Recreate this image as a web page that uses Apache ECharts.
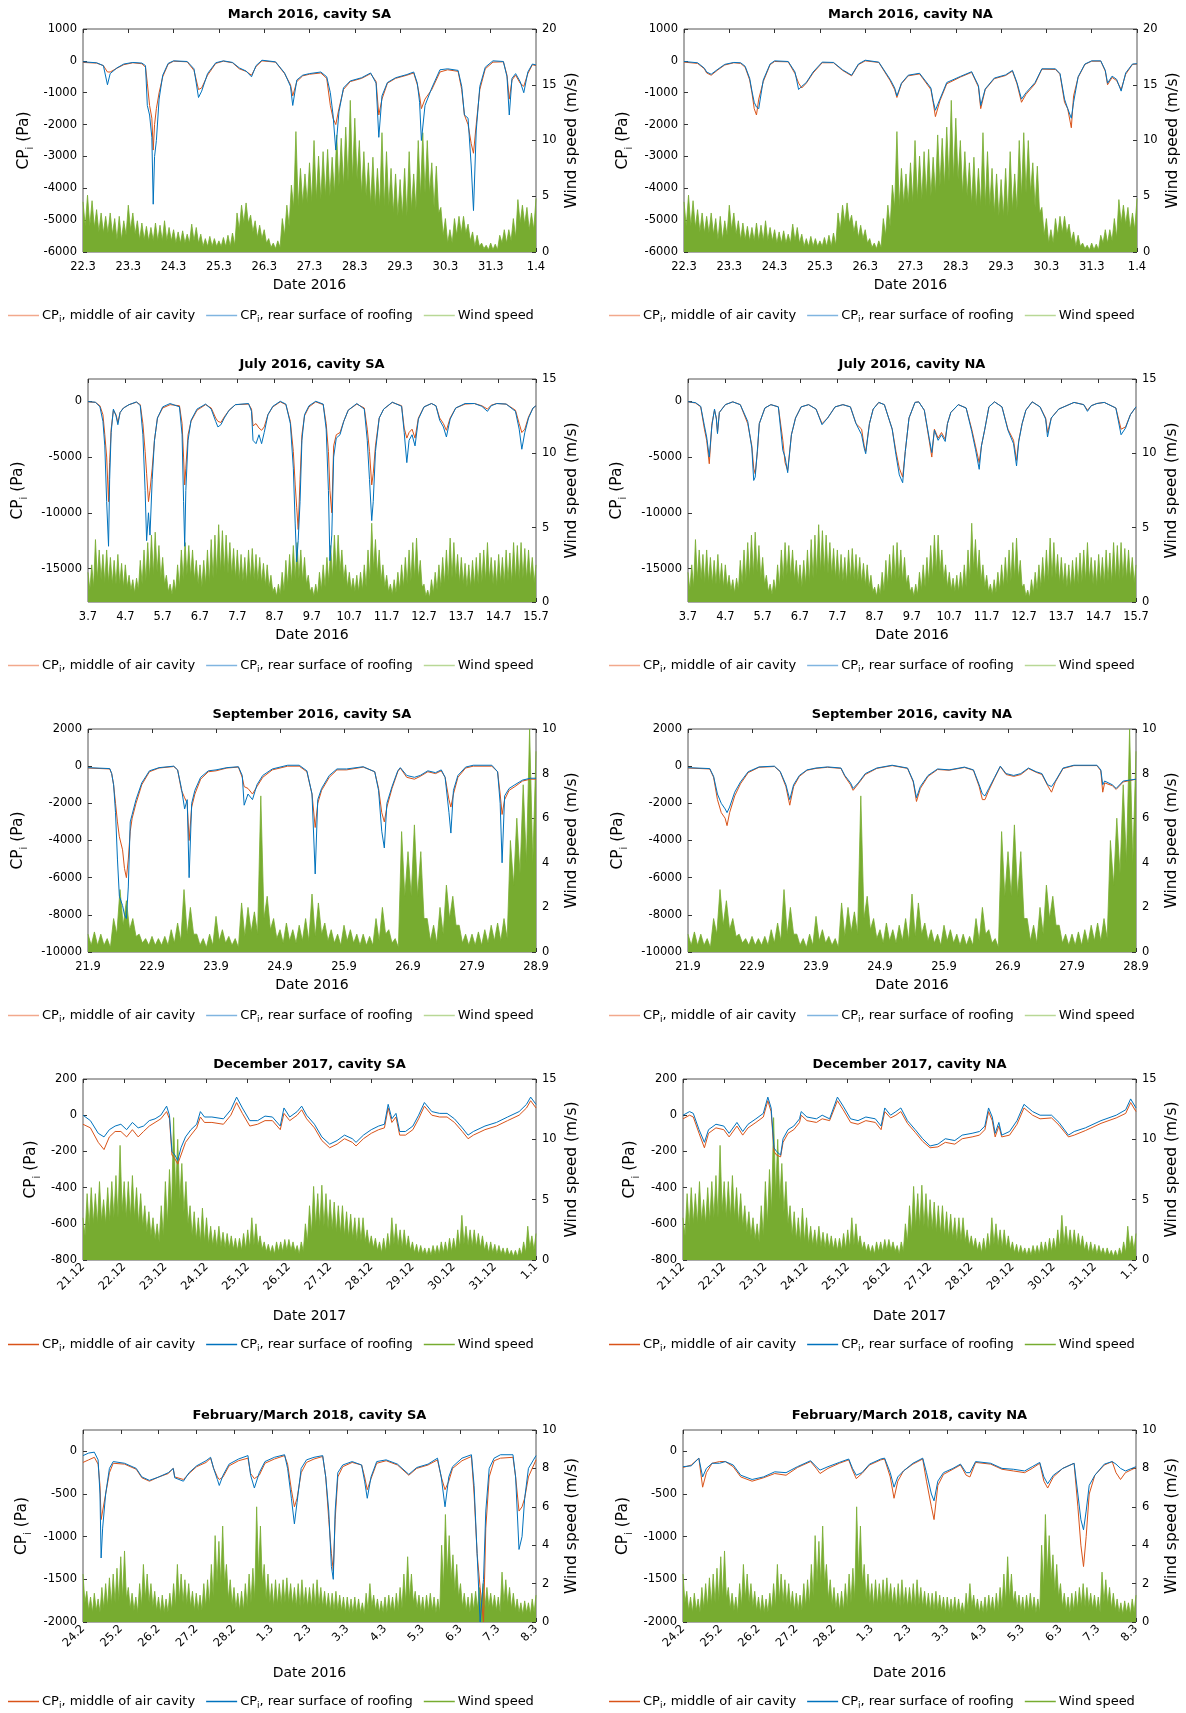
<!DOCTYPE html>
<html><head><meta charset="utf-8">
<script src="https://cdn.jsdelivr.net/npm/echarts@6/dist/echarts.min.js"></script>
<style>html,body{margin:0;padding:0;background:#fff}#c{width:1186px;height:1713px}</style>
</head><body><div id="c"></div>
<script>
// ---------- tick labels ----------
const xMar = ['22.3','23.3','24.3','25.3','26.3','27.3','28.3','29.3','30.3','31.3','1.4'];
const xJul = ['3.7','4.7','5.7','6.7','7.7','8.7','9.7','10.7','11.7','12.7','13.7','14.7','15.7'];
const xSep = ['21.9','22.9','23.9','24.9','25.9','26.9','27.9','28.9'];
const xDec = ['21.12','22.12','23.12','24.12','25.12','26.12','27.12','28.12','29.12','30.12','31.12','1.1'];
const xFeb = ['24.2','25.2','26.2','27.2','28.2','1.3','2.3','3.3','4.3','5.3','6.3','7.3','8.3'];

// ---------- March 2016 ----------
const tMarSA = [0,0.3,0.45,0.54,0.6,0.75,0.9,1.1,1.3,1.38,1.42,1.47,1.52,1.55,1.58,1.62,1.68,1.76,1.88,2.0,2.3,2.45,2.55,2.62,2.75,2.93,3.1,3.3,3.45,3.6,3.72,3.82,3.95,4.25,4.45,4.58,4.63,4.72,4.85,5.0,5.25,5.38,5.46,5.52,5.58,5.65,5.75,5.9,6.15,6.35,6.47,6.53,6.6,6.72,6.9,7.15,7.3,7.38,7.43,7.47,7.55,7.7,7.88,8.05,8.28,8.36,8.42,8.5,8.57,8.62,8.68,8.76,8.88,9.05,9.28,9.36,9.41,9.47,9.55,9.65,9.73,9.82,9.92,10];
const pMarSA_mid = [-50,-70,-150,-350,-350,-230,-120,-60,-90,-200,-700,-1400,-1800,-2800,-2000,-1500,-1000,-500,-100,-10,-30,-300,-900,-850,-450,-80,-10,-60,-250,-330,-450,-180,0,-40,-400,-750,-1100,-650,-470,-420,-380,-550,-1400,-1800,-2000,-1500,-900,-650,-550,-400,-650,-1700,-1200,-700,-550,-450,-380,-750,-1100,-1500,-1200,-900,-350,-280,-330,-900,-1700,-2000,-2600,-2900,-2000,-900,-250,-40,-30,-450,-1200,-600,-450,-700,-800,-400,-120,-150];
const pMarSA_rear = [-30,-60,-150,-750,-400,-220,-100,-50,-70,-150,-1400,-1700,-2400,-4500,-3000,-2500,-1200,-450,-80,0,-20,-250,-1150,-950,-400,-60,0,-50,-220,-320,-500,-150,20,-30,-380,-800,-1400,-600,-450,-400,-350,-500,-1000,-1700,-2800,-1600,-850,-630,-530,-380,-700,-2400,-1100,-680,-530,-430,-350,-700,-1300,-2500,-1400,-850,-280,-250,-300,-800,-1700,-1800,-3300,-4700,-2200,-800,-200,0,-20,-500,-1700,-550,-400,-650,-1000,-350,-100,-130];
const tMarNA = [0,0.3,0.45,0.5,0.6,0.75,0.9,1.1,1.25,1.35,1.45,1.5,1.55,1.6,1.65,1.75,1.9,2.0,2.3,2.45,2.53,2.6,2.7,2.85,3.05,3.3,3.5,3.7,3.85,4.0,4.3,4.55,4.65,4.7,4.8,4.95,5.2,5.45,5.5,5.55,5.65,5.8,6.1,6.35,6.5,6.55,6.65,6.85,7.1,7.25,7.35,7.45,7.55,7.75,7.9,8.2,8.3,8.4,8.47,8.55,8.6,8.7,8.85,9.0,9.2,9.3,9.35,9.45,9.55,9.65,9.75,9.9,10];
const pMarNA_mid = [-40,-80,-250,-380,-450,-280,-130,-60,-80,-200,-600,-1000,-1500,-1700,-1200,-650,-120,-20,-30,-400,-700,-850,-700,-380,-60,-60,-300,-470,-120,0,-50,-620,-900,-1150,-720,-470,-410,-900,-1300,-1750,-1250,-720,-510,-360,-820,-1500,-900,-560,-460,-320,-720,-1300,-1050,-720,-260,-270,-420,-1300,-1500,-2100,-1100,-520,-110,-10,-10,-320,-750,-520,-620,-900,-420,-110,-100];
const pMarNA_rear = [-20,-60,-230,-350,-420,-260,-110,-50,-60,-170,-550,-950,-1300,-1450,-1500,-600,-100,0,-20,-350,-900,-800,-680,-350,-40,-50,-280,-450,-100,20,-40,-580,-850,-1100,-700,-450,-390,-850,-1250,-1550,-1200,-680,-490,-340,-780,-1400,-880,-540,-440,-300,-680,-1200,-1000,-680,-250,-250,-400,-1200,-1500,-1800,-1300,-500,-100,0,0,-300,-700,-480,-580,-950,-380,-100,-90];
const wMarPeak = [4.5,5.1,4.6,3.8,3.5,3.2,3.5,3.0,3.2,2.8,4.2,3.5,2.8,2.6,2.3,2.2,2.6,2.4,2.8,2.2,2.0,1.8,1.9,1.6,2.5,2.2,1.6,1.2,1.4,1.2,1.0,1.3,1.5,1.7,3.5,4.2,4.4,3.3,2.8,2.4,2.0,1.2,0.8,1.0,3.0,4.2,6.0,10.8,7.5,7.0,8.0,10.0,8.6,9.0,9.2,8.5,10.5,10.2,11.2,13.6,12.0,10.0,9.0,8.0,8.5,7.5,10.7,9.0,7.5,7.0,6.5,7.5,9.0,7.0,10.0,10.7,10.0,8.0,7.7,4.0,3.0,2.0,3.0,3.2,3.2,2.5,1.8,1.5,0.8,0.6,0.8,0.7,1.5,2.0,2.0,3.0,4.7,4.2,4.0,3.5,4.8];
const wMarCore = [2.3,2.3,2.2,1.8,1.7,1.7,1.6,1.1,1.1,1.5,2.0,1.6,1.1,1.1,1.0,1.0,1.0,1.0,1.0,1.0,0.8,0.8,0.8,0.8,1.0,0.8,0.5,0.5,0.5,0.5,0.5,0.5,0.5,0.6,2.0,2.6,2.6,1.8,1.3,1.2,0.8,0.4,0.3,0.4,1.5,2.3,4.0,4.1,4.3,4.4,4.5,4.7,4.7,5.0,5.0,5.2,5.9,5.9,6.3,6.5,6.5,5.2,5.0,4.3,4.1,4.1,4.1,4.1,3.5,3.2,3.2,3.2,3.8,3.8,5.0,5.3,5.3,4.0,3.5,1.5,0.8,0.8,1.5,1.7,1.7,1.0,0.5,0.5,0.3,0.2,0.2,0.2,0.8,0.8,1.0,1.3,2.6,2.5,2.0,2.0,2.0];

// ---------- July 2016 ----------
const tJulSA = [0,0.2,0.32,0.4,0.45,0.5,0.55,0.58,0.62,0.68,0.75,0.8,0.86,0.95,1.1,1.3,1.4,1.47,1.53,1.57,1.62,1.66,1.72,1.78,1.86,2.0,2.2,2.45,2.52,2.56,2.59,2.62,2.68,2.76,2.92,3.15,3.3,3.42,3.48,3.56,3.65,3.78,3.95,4.3,4.38,4.42,4.5,4.58,4.65,4.72,4.82,4.95,5.15,5.3,5.42,5.5,5.55,5.59,5.63,5.68,5.73,5.8,5.92,6.1,6.3,6.38,6.44,6.48,6.53,6.58,6.65,6.75,6.85,6.97,7.2,7.4,7.48,7.54,7.6,7.64,7.7,7.8,7.92,8.15,8.4,8.47,8.54,8.6,8.68,8.76,8.85,9.0,9.2,9.32,9.42,9.52,9.6,9.7,9.85,10.1,10.35,10.55,10.7,10.8,10.95,11.2,11.45,11.55,11.62,11.7,11.8,11.92,12];
const pJulSA_mid = [-50,-100,-400,-1200,-3000,-5000,-9000,-5500,-2500,-800,-1200,-1900,-1000,-600,-300,-80,-300,-2000,-4500,-6500,-9000,-8000,-6000,-3500,-1500,-600,-300,-400,-2000,-5000,-7500,-6000,-3000,-1800,-800,-300,-600,-1500,-1800,-1900,-1400,-800,-300,-250,-700,-2200,-2000,-2400,-2600,-2300,-1200,-500,-50,-300,-1800,-4500,-7500,-9500,-11500,-7000,-3000,-1300,-500,-50,-300,-2000,-4500,-8000,-10000,-4000,-3000,-2800,-1800,-800,-250,-600,-2500,-4500,-7500,-6500,-4000,-1500,-700,-100,-400,-2400,-3300,-2800,-2500,-3300,-1500,-500,-200,-400,-1500,-2000,-2600,-1500,-600,-250,-200,-400,-700,-350,-200,-250,-800,-2000,-2800,-2500,-1400,-600,-400];
const pJulSA_rear = [-30,-80,-500,-1800,-4000,-9000,-13000,-7000,-2800,-700,-1300,-2100,-1000,-600,-300,-50,-400,-3000,-8000,-12500,-10000,-12000,-7000,-3500,-1500,-500,-200,-500,-3000,-9000,-13000,-8000,-3500,-1700,-700,-250,-700,-1800,-2300,-2100,-1500,-800,-300,-200,-900,-3500,-3800,-3000,-3800,-2800,-1200,-450,0,-250,-2000,-6000,-11000,-14400,-12500,-9000,-3500,-1200,-400,0,-250,-2500,-8000,-14300,-12000,-5000,-3300,-3000,-1800,-800,-200,-700,-3500,-7000,-10700,-9000,-4500,-1500,-700,-80,-450,-2800,-5500,-3500,-3000,-4000,-1600,-500,-200,-400,-1700,-2300,-3200,-1600,-600,-200,-200,-450,-900,-400,-200,-250,-900,-2500,-4300,-2800,-1500,-600,-400];
const tJulNA = [0,0.2,0.34,0.44,0.5,0.57,0.64,0.71,0.76,0.79,0.84,1.0,1.2,1.4,1.6,1.71,1.76,1.8,1.86,1.91,2.06,2.22,2.42,2.54,2.6,2.67,2.77,2.88,3.03,3.23,3.43,3.59,3.74,3.94,4.15,4.35,4.5,4.65,4.72,4.76,4.86,4.96,5.11,5.26,5.47,5.57,5.66,5.75,5.82,5.92,6.08,6.18,6.33,6.46,6.53,6.6,6.7,6.79,6.89,6.95,7.04,7.24,7.45,7.6,7.7,7.8,7.86,7.95,8.06,8.21,8.41,8.57,8.72,8.8,8.86,8.95,9.05,9.22,9.43,9.58,9.63,9.73,9.93,10.34,10.6,10.7,10.8,10.95,11.15,11.46,11.6,11.65,11.72,11.85,12];
const pJulNA_mid = [-50,-150,-500,-2500,-3500,-5600,-2000,-800,-1500,-2800,-1000,-300,-50,-300,-2000,-4000,-6000,-6500,-4500,-2000,-600,-300,-500,-3500,-5500,-6200,-3000,-1500,-500,-300,-700,-2000,-1500,-500,-300,-500,-2000,-2500,-4000,-4500,-2000,-700,-100,-300,-2500,-4500,-6000,-6800,-4500,-1500,-100,-50,-800,-3500,-5000,-2500,-3300,-2800,-3400,-2000,-1000,-300,-600,-2500,-4000,-5500,-4000,-2500,-500,-50,-500,-2500,-3500,-5300,-3500,-2000,-800,-50,-500,-1500,-2800,-1500,-700,-100,-300,-800,-400,-200,-100,-600,-2500,-2600,-2300,-1200,-500];
const pJulNA_rear = [-40,-120,-450,-2200,-3200,-5000,-2200,-700,-1600,-2900,-1000,-300,-50,-300,-1800,-4200,-7100,-6800,-4300,-2000,-600,-300,-500,-4400,-5000,-6400,-3000,-1500,-500,-300,-700,-2100,-1500,-500,-300,-500,-2000,-3000,-4200,-4700,-2000,-700,-100,-300,-2500,-4800,-6600,-7300,-4500,-1500,-100,-50,-800,-3300,-4600,-2600,-3500,-3000,-3600,-2000,-1000,-300,-600,-2700,-4300,-6100,-4000,-2500,-500,-50,-500,-2600,-3800,-5800,-3600,-2000,-800,-50,-500,-1600,-3200,-1500,-700,-100,-300,-900,-400,-200,-100,-600,-3000,-3100,-2400,-1200,-500];
const wJulPeak = [2.0,2.5,4.2,3.5,3.2,3.5,3.0,2.8,3.2,2.6,2.5,1.8,1.5,1.6,2.8,3.5,4.0,4.5,4.7,3.8,3.0,1.8,1.2,1.5,2.5,3.5,4.0,3.8,3.5,2.8,2.5,2.8,3.5,4.2,4.5,5.2,4.8,4.5,4.0,3.6,3.5,3.2,3.0,3.5,3.6,3.2,3.0,2.6,2.5,1.8,1.0,1.2,2.0,2.8,3.2,3.8,4.0,3.5,3.0,1.8,1.0,1.2,2.0,2.5,3.0,3.8,4.5,4.5,3.5,2.5,2.0,1.6,1.8,2.0,2.5,3.5,5.3,4.2,3.5,2.5,1.8,1.2,1.5,2.0,2.5,3.0,3.5,4.0,4.3,2.8,1.2,0.8,1.5,2.0,2.5,3.0,3.5,4.3,4.0,3.2,3.0,2.6,2.5,2.8,3.0,3.3,3.5,4.0,3.0,2.8,3.2,3.0,3.5,3.3,4.0,3.8,4.0,3.6,3.5,3.0,2.5];
const wJulCore = [0.8,1.0,1.5,1.5,1.3,1.3,1.2,1.2,1.2,1.0,1.0,0.8,0.6,0.8,1.2,1.4,1.6,1.8,2.0,1.6,1.2,0.7,0.5,0.7,1.0,1.5,1.8,1.7,1.5,1.2,1.0,1.2,1.3,1.6,1.8,2.0,2.0,1.9,1.8,1.6,1.5,1.4,1.3,1.5,1.5,1.4,1.3,1.1,1.0,0.7,0.4,0.5,0.7,1.1,1.3,1.5,1.6,1.4,1.2,0.7,0.4,0.5,0.8,1.0,1.3,1.6,2.0,2.0,1.5,1.0,0.8,0.7,0.7,0.8,1.0,1.5,2.2,1.8,1.4,1.0,0.7,0.5,0.6,0.8,1.0,1.2,1.4,1.6,1.6,1.0,0.4,0.3,0.6,0.8,1.0,1.2,1.4,1.6,1.6,1.3,1.2,1.0,1.0,1.1,1.2,1.3,1.4,1.5,1.2,1.1,1.3,1.2,1.4,1.3,1.5,1.5,1.6,1.5,1.5,1.3,1.2];

// ---------- September 2016 ----------
const tSepSA = [0,0.34,0.37,0.4,0.43,0.46,0.49,0.54,0.57,0.6,0.63,0.66,0.69,0.75,0.84,0.96,1.11,1.34,1.4,1.46,1.51,1.55,1.58,1.62,1.67,1.76,1.88,2.0,2.17,2.35,2.41,2.44,2.5,2.57,2.64,2.73,2.88,3.12,3.3,3.42,3.5,3.55,3.59,3.65,3.77,3.89,4.04,4.3,4.48,4.54,4.59,4.63,4.67,4.75,4.84,4.88,4.98,5.1,5.19,5.31,5.43,5.52,5.58,5.64,5.67,5.71,5.78,5.9,6.02,6.31,6.4,6.44,6.47,6.51,6.58,6.67,6.79,6.91,7];
const pSepSA_mid = [-100,-150,-400,-1000,-2000,-3000,-3800,-4500,-5500,-6000,-5000,-3500,-2800,-2000,-1000,-300,-100,-20,-200,-1300,-1700,-2000,-4000,-2200,-1500,-700,-300,-250,-100,-50,-600,-1100,-1200,-1500,-1100,-600,-200,0,0,-300,-1500,-3300,-2000,-1300,-600,-200,-200,-50,-300,-1200,-2500,-3000,-2200,-1200,-300,-100,-600,-700,-550,-300,-400,-250,-600,-1800,-2200,-1500,-600,-100,0,0,-300,-1500,-2600,-1800,-1300,-1100,-800,-700,-700];
const pSepSA_rear = [-80,-130,-400,-1000,-2500,-5000,-7000,-7500,-8000,-8200,-6500,-3000,-2600,-1800,-900,-250,-80,0,-200,-1200,-2300,-1800,-6000,-2000,-1300,-600,-250,-200,-80,-30,-500,-2100,-1500,-1800,-1000,-500,-150,50,50,-250,-1500,-5800,-1800,-1200,-500,-150,-150,-30,-300,-1300,-3500,-4400,-2000,-1100,-250,-80,-500,-600,-500,-250,-350,-200,-600,-2500,-3600,-1300,-500,-50,50,50,-300,-2000,-5200,-1600,-1200,-1000,-750,-650,-650];
const tSepNA = [0,0.34,0.4,0.46,0.52,0.58,0.61,0.65,0.73,0.82,0.94,1.11,1.35,1.44,1.53,1.59,1.65,1.74,1.86,2.0,2.18,2.39,2.45,2.54,2.58,2.66,2.77,2.95,3.19,3.43,3.52,3.57,3.63,3.75,3.9,4.08,4.32,4.46,4.55,4.6,4.64,4.7,4.79,4.88,4.97,5.09,5.2,5.32,5.44,5.53,5.62,5.68,5.74,5.86,6.03,6.39,6.45,6.48,6.51,6.63,6.69,6.8,7];
const pSepNA_mid = [-100,-150,-600,-1800,-2500,-2800,-3200,-2500,-1600,-950,-350,-60,-20,-300,-1100,-2100,-1100,-550,-220,-120,-60,-120,-550,-1000,-1300,-950,-450,-120,30,-120,-850,-1900,-1200,-550,-180,-220,-70,-220,-1100,-1800,-1800,-1300,-650,-20,-450,-550,-450,-130,-330,-450,-1050,-1400,-850,-130,30,30,-250,-1400,-900,-1050,-1250,-850,-700];
const pSepNA_rear = [-80,-130,-550,-1500,-2000,-2300,-2500,-2200,-1400,-850,-300,-40,0,-280,-1000,-1800,-1000,-500,-200,-100,-40,-100,-500,-900,-1200,-900,-400,-100,50,-100,-800,-1700,-1100,-500,-150,-200,-50,-200,-1000,-1500,-1600,-1200,-600,0,-400,-500,-400,-100,-300,-400,-1000,-1100,-800,-100,50,50,-200,-1000,-800,-1000,-1200,-800,-700];
const wSepPeak = [0.8,0.9,0.8,0.6,1.5,2.8,2.3,1.5,0.8,0.6,0.7,0.6,0.7,1,1.3,2.8,2,0.8,0.6,0.8,1.6,1,0.7,0.6,2.2,2,1.8,7,2.5,1.5,1,1.3,1,1.2,1.5,2.6,2.2,1.3,1,0.8,1.2,1,0.8,0.8,0.7,1.5,2,1,0.6,5.4,4.5,5.7,4.5,1.5,1.2,2,3,2.5,1.2,0.8,0.8,0.9,1,1.2,1.3,1.5,5,6,7.5,10,9];
const wSepCore = [0.3,0.3,0.3,0.2,0.8,1.2,1,0.7,0.4,0.3,0.3,0.3,0.3,0.4,0.5,0.8,0.8,0.3,0.2,0.3,0.5,0.4,0.3,0.2,0.7,0.9,0.8,1.5,1,0.6,0.4,0.5,0.4,0.5,0.5,0.7,0.8,0.5,0.4,0.3,0.5,0.4,0.3,0.3,0.3,0.5,0.8,0.4,0.2,2.5,2.5,2.5,1.5,0.5,0.4,0.8,1.5,1.2,0.4,0.3,0.3,0.3,0.4,0.5,0.5,0.6,3,3.5,4,4,3];

// ---------- December 2017 ----------
const tDecSA = [0,0.18,0.37,0.51,0.64,0.78,0.92,1.06,1.2,1.34,1.47,1.61,1.75,1.89,2.03,2.1,2.16,2.23,2.3,2.38,2.49,2.62,2.76,2.85,2.95,3.13,3.41,3.59,3.73,3.87,4.05,4.24,4.42,4.6,4.79,4.88,5.02,5.2,5.31,5.43,5.62,5.8,5.99,6.17,6.35,6.54,6.63,6.81,7.0,7.18,7.32,7.41,7.5,7.6,7.69,7.83,8.01,8.15,8.29,8.47,8.66,8.84,9.02,9.21,9.35,9.48,9.76,10.04,10.31,10.59,10.77,10.87,11];
const pDecSA_mid = [-50,-70,-150,-190,-120,-90,-90,-120,-80,-120,-90,-60,-40,-20,20,-20,-220,-240,-270,-220,-150,-110,-70,-10,-40,-40,-50,0,70,10,-60,-50,-30,-30,-80,10,-30,0,30,-20,-70,-140,-180,-160,-130,-150,-170,-130,-100,-80,-70,40,-40,-10,-110,-110,-80,-20,50,0,-10,-10,-40,-90,-130,-110,-80,-60,-30,0,40,80,40];
const pDecSA_rear = [0,-30,-100,-120,-80,-60,-50,-80,-40,-70,-60,-30,-20,0,50,0,-200,-220,-250,-180,-120,-80,-50,20,-10,-10,-20,30,100,40,-30,-30,-5,-10,-60,40,-10,20,50,0,-50,-120,-160,-140,-110,-130,-150,-110,-80,-60,-50,60,-20,10,-90,-90,-60,0,70,20,10,10,-20,-70,-110,-90,-60,-40,-10,20,60,100,60];
const tDecNA = [0,0.16,0.25,0.39,0.52,0.62,0.8,0.99,1.12,1.31,1.45,1.58,1.77,1.95,2.06,2.14,2.21,2.27,2.37,2.43,2.55,2.69,2.83,2.87,3.01,3.24,3.38,3.56,3.75,3.89,4.07,4.25,4.44,4.67,4.81,4.9,5.04,5.17,5.29,5.45,5.64,5.82,6.0,6.19,6.37,6.6,6.78,7.02,7.2,7.33,7.42,7.51,7.58,7.67,7.74,7.93,8.11,8.28,8.49,8.67,8.95,9.13,9.36,9.5,9.77,10.15,10.52,10.75,10.87,11];
const pDecNA_mid = [-20,0,-10,-100,-180,-100,-70,-80,-120,-60,-110,-70,-40,-10,80,20,-200,-220,-230,-150,-100,-80,-40,0,-30,-40,-20,-30,80,30,-40,-50,-30,-40,-80,20,-15,0,20,-45,-95,-145,-180,-175,-150,-160,-130,-120,-110,-80,20,-30,-120,-60,-120,-110,-50,40,0,-20,-15,-55,-120,-110,-85,-45,-15,10,70,20];
const pDecNA_rear = [0,20,10,-80,-150,-80,-50,-60,-100,-40,-90,-50,-20,10,100,40,-180,-200,-220,-130,-80,-60,-20,20,-10,-20,0,-20,100,50,-20,-30,-10,-20,-60,40,0,20,40,-30,-80,-130,-170,-160,-130,-140,-110,-100,-90,-60,40,-10,-100,-40,-110,-90,-30,60,20,0,0,-40,-110,-90,-70,-30,0,30,90,40];
const wDecPeak = [3.5,5.5,6.0,5.5,6.5,5.0,6.0,6.5,7.0,9.5,6.5,6.5,7.0,6.0,5.5,4.5,4.0,3.5,3.0,4.5,6.5,7.5,11.8,10.0,8.0,6.5,4.5,4.0,3.5,4.3,3.5,2.8,2.5,2.8,2.3,2.2,2.0,1.8,1.8,2.2,2.5,3.5,3.0,2.0,1.5,1.3,1.2,1.5,1.5,1.7,1.7,1.5,1.2,1.5,3.0,4.5,6.1,5.5,6.2,5.5,5.0,4.8,4.5,4.5,4.0,3.8,3.5,3.5,3.5,2.5,2.0,1.8,1.5,1.8,2.2,3.5,3.0,2.5,2.5,2.0,1.5,1.3,1.2,1.0,1.0,1.2,1.2,1.5,1.5,1.8,1.8,2.5,3.7,2.8,2.5,2.5,2.2,2.0,1.5,1.5,1.3,1.2,1.0,1.0,0.8,0.8,1.0,1.5,2.8,2.0,2.2];
const wDecCore = [2.0,2.8,3.0,3.0,3.2,3.0,3.2,3.5,3.5,4.0,3.5,3.5,3.5,3.0,2.8,2.3,2.0,1.7,1.5,2.0,3.0,4.0,5.5,5.0,4.0,3.0,2.0,1.7,1.5,1.5,1.3,1.2,1.1,1.1,1.0,1.0,0.9,0.8,0.8,0.9,1.0,1.2,1.2,0.9,0.7,0.6,0.5,0.7,0.7,0.8,0.8,0.7,0.5,0.7,1.5,2.2,2.8,2.8,2.8,2.6,2.5,2.3,2.2,2.0,1.9,1.8,1.6,1.6,1.5,1.2,1.0,0.8,0.6,0.7,0.9,1.3,1.2,1.0,1.0,0.8,0.6,0.5,0.5,0.4,0.4,0.5,0.5,0.6,0.6,0.7,0.8,1.0,1.3,1.2,1.1,1.1,1.0,0.8,0.6,0.6,0.5,0.5,0.4,0.4,0.3,0.3,0.4,0.6,1.0,0.8,0.9];

// ---------- February/March 2018 ----------
const tFebSA = [0,0.15,0.3,0.4,0.45,0.48,0.52,0.6,0.7,0.8,1.1,1.41,1.56,1.76,2.01,2.26,2.39,2.43,2.66,2.81,3.01,3.26,3.38,3.46,3.56,3.61,3.71,3.87,4.12,4.37,4.44,4.54,4.67,4.82,5.07,5.34,5.42,5.52,5.6,5.67,5.78,5.92,6.12,6.35,6.43,6.51,6.58,6.63,6.68,6.75,6.88,7.13,7.38,7.46,7.53,7.63,7.78,8.03,8.33,8.63,8.84,9.14,9.39,9.49,9.59,9.69,9.79,10.04,10.29,10.36,10.44,10.52,10.61,10.67,10.76,10.89,11.06,11.39,11.46,11.55,11.63,11.7,11.8,12];
const pFebSA_mid = [-130,-100,-70,-150,-400,-800,-700,-500,-250,-140,-150,-210,-310,-350,-300,-260,-200,-300,-330,-260,-180,-130,-80,-200,-300,-330,-300,-170,-110,-80,-260,-320,-280,-140,-90,-50,-150,-450,-650,-550,-250,-130,-90,-60,-300,-800,-1200,-1400,-800,-300,-180,-130,-160,-300,-450,-320,-140,-110,-160,-280,-200,-160,-100,-300,-450,-350,-200,-110,-60,-500,-1200,-1600,-2000,-900,-300,-110,-80,-70,-300,-700,-650,-550,-300,-100];
const pFebSA_rear = [-50,-20,-10,-100,-500,-1250,-900,-500,-200,-120,-140,-200,-300,-340,-300,-250,-200,-310,-350,-250,-170,-110,-70,-200,-330,-400,-280,-150,-90,-50,-280,-430,-250,-120,-70,-40,-200,-550,-850,-600,-200,-100,-70,-50,-300,-700,-1350,-1500,-700,-250,-160,-120,-160,-350,-550,-300,-120,-100,-150,-270,-190,-150,-80,-300,-650,-300,-180,-80,-40,-400,-1200,-2000,-1500,-700,-200,-80,-40,-40,-300,-1150,-1000,-550,-200,-50];
const tFebNA = [0,0.22,0.42,0.52,0.62,0.77,0.97,1.12,1.33,1.53,1.83,2.13,2.43,2.73,3.03,3.38,3.53,3.63,3.84,4.14,4.39,4.49,4.59,4.74,4.94,5.24,5.34,5.49,5.59,5.69,5.84,6.09,6.35,6.45,6.58,6.65,6.75,6.9,7.15,7.35,7.5,7.6,7.75,8.15,8.45,8.75,9.05,9.25,9.45,9.56,9.66,9.81,10.06,10.36,10.46,10.54,10.61,10.68,10.76,10.91,11.16,11.37,11.47,11.59,11.72,12];
const pFebNA_mid = [-190,-160,-80,-420,-250,-140,-120,-120,-180,-300,-350,-310,-260,-280,-190,-120,-200,-260,-200,-140,-100,-220,-320,-260,-160,-100,-90,-300,-550,-350,-230,-150,-90,-350,-650,-800,-400,-270,-210,-160,-280,-300,-130,-150,-210,-230,-250,-200,-140,-350,-430,-300,-200,-140,-650,-1100,-1350,-1000,-500,-280,-160,-120,-250,-330,-250,-190];
const pFebNA_rear = [-180,-170,-80,-300,-200,-140,-140,-120,-160,-280,-330,-300,-240,-250,-180,-110,-180,-220,-180,-130,-90,-200,-280,-250,-150,-90,-80,-250,-420,-300,-230,-140,-80,-250,-500,-580,-350,-250,-200,-150,-250,-250,-120,-140,-200,-210,-230,-180,-130,-300,-380,-280,-200,-140,-500,-800,-920,-700,-400,-280,-150,-120,-150,-200,-230,-180];
const wFebPeak = [2.5,1.6,1.3,1.5,1.2,1.8,2.0,2.3,2.5,2.8,3.4,3.7,1.8,1.5,1.3,2.0,3.0,2.5,2.0,1.6,1.3,1.4,1.2,1.5,2.0,3.0,2.5,2.2,2.0,1.6,1.5,1.4,2.0,2.2,3.0,4.5,4.2,5.0,3.0,2.2,1.8,1.5,1.6,2.0,2.5,2.8,6.0,5.0,3.0,2.5,2.0,2.2,2.0,2.2,2.3,2.0,1.8,2.0,2.2,1.8,1.8,2.0,2.2,1.8,1.6,1.5,1.5,1.6,1.4,1.3,1.3,1.2,1.3,1.2,1.0,1.5,2.0,1.4,1.2,1.1,1.3,1.4,1.3,1.5,1.8,2.5,3.4,2.5,1.6,1.4,1.3,1.4,1.5,1.3,1.2,4.0,5.6,4.5,3.5,3.0,2.0,1.5,1.3,1.5,1.6,1.8,2.0,1.8,1.5,1.4,1.3,2.6,2.2,1.8,1.5,1.2,1.0,1.1,1.0,1.2,1.4];
const wFebCore = [1.0,0.6,0.5,0.6,0.5,0.7,0.8,0.9,1.0,1.1,1.2,1.2,0.7,0.6,0.5,0.8,1.2,1.0,0.8,0.6,0.5,0.5,0.5,0.6,0.8,1.1,1.0,0.9,0.8,0.6,0.6,0.6,0.8,0.9,1.3,2.0,2.0,2.0,1.2,0.9,0.7,0.6,0.6,0.8,1.0,1.2,2.5,2.0,1.2,1.0,0.8,0.9,0.9,1.0,1.0,0.9,0.8,0.8,0.9,0.8,0.8,0.8,0.9,0.8,0.7,0.6,0.6,0.6,0.6,0.5,0.5,0.5,0.5,0.5,0.4,0.6,0.8,0.6,0.5,0.5,0.5,0.6,0.5,0.6,0.7,1.0,1.2,1.0,0.7,0.6,0.5,0.6,0.6,0.5,0.5,1.8,2.5,2.2,1.6,1.3,0.8,0.6,0.5,0.6,0.7,0.8,0.8,0.8,0.7,0.6,0.5,1.0,0.9,0.7,0.6,0.5,0.4,0.5,0.4,0.5,0.6];

// ---------- build ----------
const ORANGE = '#D95319', BLUE = '#0072BD', GREEN = '#77AC30';
const PALE = ['#F2A88C', '#80B5E0', '#B8D896'];
const FONT = '"DejaVu Sans", Verdana, sans-serif';
const N_MID = 'CPi, middle of air cavity', N_REAR = 'CPi, rear surface of roofing', N_WIND = 'Wind speed';

function pairs(t, v) { const n = Math.min(t.length, v.length), o = []; for (let i = 0; i < n; i++) o.push([t[i], v[i]]); return o; }
function zigzag(peak, core, step) {
  const o = [];
  for (let i = 0; i < peak.length; i++) {
    o.push([i * step, peak[i]]);
    if (i < peak.length - 1 && i < core.length) o.push([i * step + step / 2, core[i]]);
  }
  return o;
}

const rows = [
  {top: 29,   h: 223, lx: 83, lw: 453, rx: 684, rw: 453, ty: 15,   ly: 315,  xgap: 26, rot: 0,  lg: [48, 50], pale: true},
  {top: 379,  h: 223, lx: 88, lw: 448, rx: 688, rw: 448, ty: 365,  ly: 665,  xgap: 26, rot: 0,  lg: [59, 60], pale: true},
  {top: 729,  h: 223, lx: 88, lw: 448, rx: 688, rw: 448, ty: 715,  ly: 1015, xgap: 26, rot: 0,  lg: [59, 59], pale: true},
  {top: 1079, h: 181, lx: 83, lw: 453, rx: 683, rw: 453, ty: 1065, ly: 1344, xgap: 49, rot: 45, lg: [41, 42], pale: false},
  {top: 1430, h: 192, lx: 83, lw: 453, rx: 683, rw: 453, ty: 1416, ly: 1701, xgap: 44, rot: 45, lg: [50, 49], pale: false}
];

const panels = [
  {r:0,c:0,title:'March 2016, cavity SA',t:tMarSA,mid:pMarSA_mid,rear:pMarSA_rear,wp:wMarPeak,wc:wMarCore,ws:0.1,xl:xMar,yl:[-6000,1000,1000,null],yr:[0,20,5],xn:'Date 2016'},
  {r:0,c:1,title:'March 2016, cavity NA',t:tMarNA,mid:pMarNA_mid,rear:pMarNA_rear,wp:wMarPeak,wc:wMarCore,ws:0.1,xl:xMar,yl:[-6000,1000,1000,null],yr:[0,20,5],xn:'Date 2016'},
  {r:1,c:0,title:'July 2016, cavity SA',t:tJulSA,mid:pJulSA_mid,rear:pJulSA_rear,wp:wJulPeak,wc:wJulCore,ws:0.1,xl:xJul,yl:[-18000,2000,1000,[-15000,-10000,-5000,0]],yr:[0,15,5],xn:'Date 2016'},
  {r:1,c:1,title:'July 2016, cavity NA',t:tJulNA,mid:pJulNA_mid,rear:pJulNA_rear,wp:wJulPeak,wc:wJulCore,ws:0.1,xl:xJul,yl:[-18000,2000,1000,[-15000,-10000,-5000,0]],yr:[0,15,5],xn:'Date 2016'},
  {r:2,c:0,title:'September 2016, cavity SA',t:tSepSA,mid:pSepSA_mid,rear:pSepSA_rear,wp:wSepPeak,wc:wSepCore,ws:0.1,xl:xSep,yl:[-10000,2000,2000,null],yr:[0,10,2],xn:'Date 2016'},
  {r:2,c:1,title:'September 2016, cavity NA',t:tSepNA,mid:pSepNA_mid,rear:pSepNA_rear,wp:wSepPeak,wc:wSepCore,ws:0.1,xl:xSep,yl:[-10000,2000,2000,null],yr:[0,10,2],xn:'Date 2016'},
  {r:3,c:0,title:'December 2017, cavity SA',t:tDecSA,mid:pDecSA_mid,rear:pDecSA_rear,wp:wDecPeak,wc:wDecCore,ws:0.1,xl:xDec,yl:[-800,200,200,null],yr:[0,15,5],xn:'Date 2017'},
  {r:3,c:1,title:'December 2017, cavity NA',t:tDecNA,mid:pDecNA_mid,rear:pDecNA_rear,wp:wDecPeak,wc:wDecCore,ws:0.1,xl:xDec,yl:[-800,200,200,null],yr:[0,15,5],xn:'Date 2017'},
  {r:4,c:0,title:'February/March 2018, cavity SA',t:tFebSA,mid:pFebSA_mid,rear:pFebSA_rear,wp:wFebPeak,wc:wFebCore,ws:0.1,xl:xFeb,yl:[-2000,250,250,[-2000,-1500,-1000,-500,0]],yr:[0,10,2],xn:'Date 2016'},
  {r:4,c:1,title:'February/March 2018, cavity NA',t:tFebNA,mid:pFebNA_mid,rear:pFebNA_rear,wp:wFebPeak,wc:wFebCore,ws:0.1,xl:xFeb,yl:[-2000,250,250,[-2000,-1500,-1000,-500,0]],yr:[0,10,2],xn:'Date 2016'}
];

const grid = [], xAxis = [], yAxis = [], series = [], title = [], legend = [];
const tickStyle = {inside: true, length: 4, lineStyle: {color: '#333', width: 1}};
const labStyle = {fontFamily: FONT, fontSize: 11.5, color: '#000'};

panels.forEach((p, i) => {
  const R = rows[p.r];
  const left = p.c === 0 ? R.lx : R.rx, width = p.c === 0 ? R.lw : R.rw;
  grid.push({left: left, top: R.top, width: width, height: R.h, show: true, borderColor: '#555', borderWidth: 1, backgroundColor: 'rgba(0,0,0,0)'});
  title.push({text: p.title, left: left + width / 2, top: R.ty - 7, textAlign: 'center', padding: 0,
    textStyle: {fontFamily: FONT, fontSize: 13, fontWeight: 'bold', color: '#000'}});
  const lc = R.pale ? PALE : [ORANGE, BLUE, GREEN];
  legend.push({left: p.c === 0 ? 8 : 609, top: R.ly - 6, padding: 0, icon: 'rect', itemWidth: 31, itemHeight: 1.5, itemGap: 11,
    data: [{name: N_MID, itemStyle: {color: lc[0]}}, {name: N_REAR, itemStyle: {color: lc[1]}}, {name: N_WIND, itemStyle: {color: lc[2]}}],
    selectedMode: false,
    formatter: n => n.indexOf('CPi') === 0 ? '{n|CP}{s|i}{n|' + n.slice(3) + '}' : '{n|' + n + '}',
    textStyle: {fontFamily: FONT, fontSize: 13, color: '#000', padding: [0, 0, 0, -2], rich: {
      n: {fontFamily: FONT, fontSize: 13, color: '#000', lineHeight: 18},
      s: {fontFamily: FONT, fontSize: 9, color: '#000', verticalAlign: 'bottom', lineHeight: 10}}}});
  const nx = p.xl.length - 1;
  xAxis.push({gridIndex: i, type: 'value', min: 0, max: nx, interval: 1, position: 'bottom',
    axisLine: {show: false, onZero: false}, axisTick: tickStyle, splitLine: {show: false},
    axisLabel: Object.assign({formatter: v => p.xl[Math.round(v)] || '', margin: R.rot ? 5 : 9, rotate: R.rot}, labStyle),
    name: p.xn, nameLocation: 'middle', nameGap: R.xgap,
    nameTextStyle: {fontFamily: FONT, fontSize: 14, color: '#000'}});
  xAxis.push({gridIndex: i, type: 'value', min: 0, max: nx, interval: 1, position: 'top',
    axisLine: {show: false, onZero: false}, axisTick: tickStyle, axisLabel: {show: false}, splitLine: {show: false}});
  const yl = {gridIndex: i, type: 'value', position: 'left', min: p.yl[0], max: p.yl[1], interval: p.yl[2],
    axisLine: {show: false, onZero: false}, axisTick: Object.assign({}, tickStyle), splitLine: {show: false},
    axisLabel: Object.assign({formatter: v => String(v), margin: 6}, labStyle),
    name: '{n|CP}{s|i}{n| (Pa)}', nameLocation: 'middle', nameRotate: 90, nameGap: R.lg[p.c],
    nameTextStyle: {rich: {
      n: {fontFamily: FONT, fontSize: 15.5, color: '#000', lineHeight: 22},
      s: {fontFamily: FONT, fontSize: 10, color: '#000', verticalAlign: 'bottom', lineHeight: 10}}}};
  if (p.yl[3]) { yl.axisLabel.customValues = p.yl[3]; yl.axisTick.customValues = p.yl[3]; }
  yAxis.push(yl);
  yAxis.push({gridIndex: i, type: 'value', position: 'right', min: p.yr[0], max: p.yr[1], interval: p.yr[2],
    axisLine: {show: false, onZero: false}, axisTick: tickStyle, splitLine: {show: false},
    axisLabel: Object.assign({formatter: v => String(v), margin: 6}, labStyle),
    name: 'Wind speed (m/s)', nameLocation: 'middle', nameRotate: 90, nameGap: 28,
    nameTextStyle: {fontFamily: FONT, fontSize: 15.5, color: '#000'}});
  series.push({name: N_WIND, type: 'line', xAxisIndex: 2 * i, yAxisIndex: 2 * i + 1, data: zigzag(p.wp, p.wc, p.ws),
    symbol: 'none', lineStyle: {width: 0.8, color: GREEN}, itemStyle: {color: GREEN},
    areaStyle: {color: GREEN, opacity: 1}, z: 1, silent: true});
  series.push({name: N_MID, type: 'line', xAxisIndex: 2 * i, yAxisIndex: 2 * i, data: pairs(p.t, p.mid),
    symbol: 'none', lineStyle: {width: 1, color: ORANGE}, itemStyle: {color: ORANGE}, z: 2, silent: true});
  series.push({name: N_REAR, type: 'line', xAxisIndex: 2 * i, yAxisIndex: 2 * i, data: pairs(p.t, p.rear),
    symbol: 'none', lineStyle: {width: 1, color: BLUE}, itemStyle: {color: BLUE}, z: 3, silent: true});
});

const chart = echarts.init(document.getElementById('c'), null, {renderer: 'canvas'});
chart.setOption({animation: false, backgroundColor: '#fff', grid, xAxis, yAxis, series, title, legend});
</script></body></html>
